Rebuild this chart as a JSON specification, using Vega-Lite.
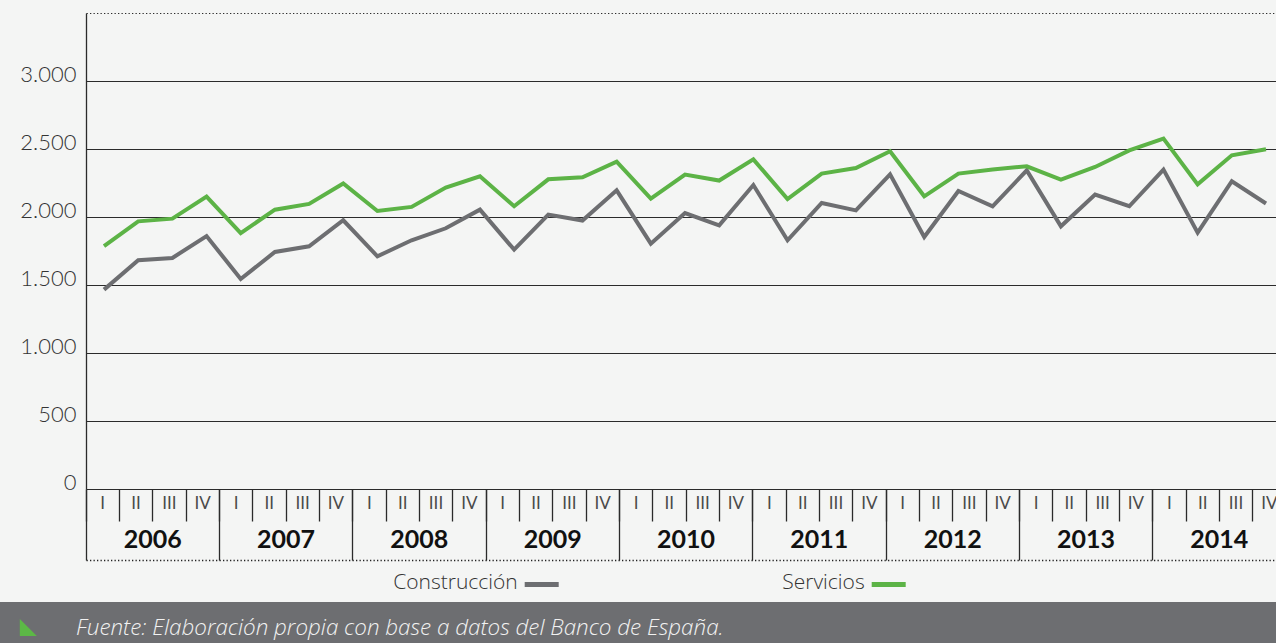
{
  "$schema": "https://vega.github.io/schema/vega-lite/v6.json",
  "background": "#f4f5f4",
  "padding": {"left": 0, "top": 13, "right": 0, "bottom": 0},
  "autosize": {"type": "pad"},
  "spacing": 0,
  "datasets": {
    "trimestral": [
      {"t": "2006-I", "serie": "Construcción", "valor": 1466},
      {"t": "2006-II", "serie": "Construcción", "valor": 1682},
      {"t": "2006-III", "serie": "Construcción", "valor": 1699},
      {"t": "2006-IV", "serie": "Construcción", "valor": 1860},
      {"t": "2007-I", "serie": "Construcción", "valor": 1544},
      {"t": "2007-II", "serie": "Construcción", "valor": 1743},
      {"t": "2007-III", "serie": "Construcción", "valor": 1785},
      {"t": "2007-IV", "serie": "Construcción", "valor": 1976},
      {"t": "2008-I", "serie": "Construcción", "valor": 1711},
      {"t": "2008-II", "serie": "Construcción", "valor": 1829},
      {"t": "2008-III", "serie": "Construcción", "valor": 1917},
      {"t": "2008-IV", "serie": "Construcción", "valor": 2054},
      {"t": "2009-I", "serie": "Construcción", "valor": 1760},
      {"t": "2009-II", "serie": "Construcción", "valor": 2018},
      {"t": "2009-III", "serie": "Construcción", "valor": 1974},
      {"t": "2009-IV", "serie": "Construcción", "valor": 2196},
      {"t": "2010-I", "serie": "Construcción", "valor": 1804},
      {"t": "2010-II", "serie": "Construcción", "valor": 2029},
      {"t": "2010-III", "serie": "Construcción", "valor": 1939},
      {"t": "2010-IV", "serie": "Construcción", "valor": 2235},
      {"t": "2011-I", "serie": "Construcción", "valor": 1829},
      {"t": "2011-II", "serie": "Construcción", "valor": 2103},
      {"t": "2011-III", "serie": "Construcción", "valor": 2049},
      {"t": "2011-IV", "serie": "Construcción", "valor": 2314},
      {"t": "2012-I", "serie": "Construcción", "valor": 1853},
      {"t": "2012-II", "serie": "Construcción", "valor": 2191},
      {"t": "2012-III", "serie": "Construcción", "valor": 2079},
      {"t": "2012-IV", "serie": "Construcción", "valor": 2343},
      {"t": "2013-I", "serie": "Construcción", "valor": 1932},
      {"t": "2013-II", "serie": "Construcción", "valor": 2165},
      {"t": "2013-III", "serie": "Construcción", "valor": 2079},
      {"t": "2013-IV", "serie": "Construcción", "valor": 2349},
      {"t": "2014-I", "serie": "Construcción", "valor": 1885},
      {"t": "2014-II", "serie": "Construcción", "valor": 2263},
      {"t": "2014-III", "serie": "Construcción", "valor": 2099},
      {"t": "2006-I", "serie": "Servicios", "valor": 1785},
      {"t": "2006-II", "serie": "Servicios", "valor": 1968},
      {"t": "2006-III", "serie": "Servicios", "valor": 1988},
      {"t": "2006-IV", "serie": "Servicios", "valor": 2150},
      {"t": "2007-I", "serie": "Servicios", "valor": 1882},
      {"t": "2007-II", "serie": "Servicios", "valor": 2054},
      {"t": "2007-III", "serie": "Servicios", "valor": 2096},
      {"t": "2007-IV", "serie": "Servicios", "valor": 2246},
      {"t": "2008-I", "serie": "Servicios", "valor": 2044},
      {"t": "2008-II", "serie": "Servicios", "valor": 2074},
      {"t": "2008-III", "serie": "Servicios", "valor": 2216},
      {"t": "2008-IV", "serie": "Servicios", "valor": 2299},
      {"t": "2009-I", "serie": "Servicios", "valor": 2079},
      {"t": "2009-II", "serie": "Servicios", "valor": 2277},
      {"t": "2009-III", "serie": "Servicios", "valor": 2292},
      {"t": "2009-IV", "serie": "Servicios", "valor": 2407},
      {"t": "2010-I", "serie": "Servicios", "valor": 2135},
      {"t": "2010-II", "serie": "Servicios", "valor": 2312},
      {"t": "2010-III", "serie": "Servicios", "valor": 2268},
      {"t": "2010-IV", "serie": "Servicios", "valor": 2424},
      {"t": "2011-I", "serie": "Servicios", "valor": 2132},
      {"t": "2011-II", "serie": "Servicios", "valor": 2319},
      {"t": "2011-III", "serie": "Servicios", "valor": 2360},
      {"t": "2011-IV", "serie": "Servicios", "valor": 2483},
      {"t": "2012-I", "serie": "Servicios", "valor": 2152},
      {"t": "2012-II", "serie": "Servicios", "valor": 2319},
      {"t": "2012-III", "serie": "Servicios", "valor": 2349},
      {"t": "2012-IV", "serie": "Servicios", "valor": 2373},
      {"t": "2013-I", "serie": "Servicios", "valor": 2275},
      {"t": "2013-II", "serie": "Servicios", "valor": 2368},
      {"t": "2013-III", "serie": "Servicios", "valor": 2490},
      {"t": "2013-IV", "serie": "Servicios", "valor": 2577},
      {"t": "2014-I", "serie": "Servicios", "valor": 2240},
      {"t": "2014-II", "serie": "Servicios", "valor": 2454},
      {"t": "2014-III", "serie": "Servicios", "valor": 2498}
    ]
  },
  "vconcat": [
    {
      "width": 1276,
      "height": 476,
      "data": {"name": "trimestral"},
      "layer": [
        {
          "mark": {"type": "line", "strokeWidth": 4, "strokeJoin": "miter"},
          "encoding": {
            "x": {
              "field": "t", "type": "ordinal",
              "scale": {"type": "point", "range": [86, 1276], "padding": 0.41, "align": 0.643},
              "axis": null
            },
            "y": {
              "field": "valor", "type": "quantitative",
              "scale": {"domain": [0, 3500], "nice": false, "zero": true},
              "axis": {
                "orient": "left",
                "offset": -86,
                "title": null,
                "values": [0, 500, 1000, 1500, 2000, 2500, 3000, 3500],
                "labelExpr": "datum.value == 3500 ? '' : replace(format(datum.value, ','), ',', '.')",
                "domain": true,
                "domainColor": "#2b2b2b",
                "domainWidth": 1.3,
                "ticks": false,
                "grid": true,
                "gridColor": "#2b2b2b",
                "gridWidth": 1.2,
                "gridOpacity": 1,
                "gridDash": {"condition": {"test": "datum.value == 3500", "value": [1.3, 2.2]}, "value": []},
                "labelFont": "Lato",
                "labelFontWeight": 300,
                "labelFontSize": 22,
                "labelColor": "#333333",
                "labelPadding": 10,
                "labelBaseline": "alphabetic",
                "labelAlign": "right"
              }
            },
            "color": {
              "field": "serie", "type": "nominal",
              "scale": {"domain": ["Construcción", "Servicios"], "range": ["#6d6e71", "#5cb346"]},
              "legend": null
            }
          }
        },
        {
          "mark": {"type": "point", "opacity": 0},
          "encoding": {
            "x": {
              "field": "t", "type": "ordinal",
              "scale": {
                "type": "band",
                "domain": ["2006-I","2006-II","2006-III","2006-IV","2007-I","2007-II","2007-III","2007-IV","2008-I","2008-II","2008-III","2008-IV","2009-I","2009-II","2009-III","2009-IV","2010-I","2010-II","2010-III","2010-IV","2011-I","2011-II","2011-III","2011-IV","2012-I","2012-II","2012-III","2012-IV","2013-I","2013-II","2013-III","2013-IV","2014-I","2014-II","2014-III","2014-IV"],
                "range": [86, 1286],
                "paddingInner": 0,
                "paddingOuter": 0
              },
              "axis": {
                "orient": "bottom",
                "title": null,
                "domain": false,
                "grid": false,
                "ticks": true,
                "tickSize": 32,
                "tickColor": "#2b2b2b",
                "tickWidth": 1.3,
                "bandPosition": 0,
                "tickExtra": false,
                "labelExpr": "split(datum.label, '-')[1]",
                "labelAngle": 0,
                "labelPadding": -18,
                "labelBaseline": "middle",
                "labelAlign": "center",
                "labelFont": "Lato",
                "labelFontWeight": 400,
                "labelFontSize": 17,
                "labelColor": "#4a4a4a",
                "labelOverlap": false,
                "labelFlush": false
              }
            },
            "y": {"field": "valor", "type": "quantitative"}
          }
        },
        {
          "mark": {"type": "point", "opacity": 0},
          "encoding": {
            "x": {
              "field": "t", "type": "ordinal",
              "scale": {
                "type": "band",
                "domain": ["2006-I","2006-II","2006-III","2006-IV","2007-I","2007-II","2007-III","2007-IV","2008-I","2008-II","2008-III","2008-IV","2009-I","2009-II","2009-III","2009-IV","2010-I","2010-II","2010-III","2010-IV","2011-I","2011-II","2011-III","2011-IV","2012-I","2012-II","2012-III","2012-IV","2013-I","2013-II","2013-III","2013-IV","2014-I","2014-II","2014-III","2014-IV"],
                "range": [86, 1286],
                "paddingInner": 0,
                "paddingOuter": 0
              },
              "axis": {
                "orient": "bottom",
                "offset": 71,
                "title": null,
                "values": ["2006-I","2007-I","2008-I","2009-I","2010-I","2011-I","2012-I","2013-I","2014-I"],
                "domain": true,
                "domainColor": "#222222",
                "domainWidth": 1.3,
                "domainDash": [1.3, 2.2],
                "grid": false,
                "ticks": true,
                "tickSize": -71,
                "tickColor": "#2b2b2b",
                "tickWidth": 1.3,
                "bandPosition": 0,
                "tickExtra": false,
                "labelExpr": "split(datum.label, '-')[0]",
                "labelAngle": 0,
                "labelOffset": 50,
                "labelPadding": 50,
                "labelBaseline": "middle",
                "labelAlign": "center",
                "labelFont": "Lato",
                "labelFontWeight": "bold",
                "labelFontSize": 25,
                "labelColor": "#111111",
                "labelOverlap": false,
                "labelFlush": false
              }
            },
            "y": {"field": "valor", "type": "quantitative"}
          }
        }
      ],
      "resolve": {"scale": {"x": "independent"}, "axis": {"x": "independent"}}
    },
    {
      "width": 1276,
      "height": 41,
      "data": {"values": [{"serie": "Construcción"}, {"serie": "Servicios"}]},
      "encoding": {
        "x": {
          "field": "serie", "type": "nominal",
          "scale": {"type": "point", "domain": ["Construcción", "Servicios"], "range": [541.7, 888.7], "padding": 0},
          "axis": null
        }
      },
      "layer": [
        {
          "mark": {"type": "text", "align": "right", "baseline": "alphabetic", "dx": -24, "dy": 7, "font": "Open Sans", "fontWeight": 300, "fontSize": 21, "color": "#333333"},
          "encoding": {"text": {"field": "serie"}}
        },
        {
          "mark": {"type": "tick", "orient": "horizontal", "size": 34, "thickness": 5, "yOffset": 3, "opacity": 1},
          "encoding": {"color": {"field": "serie", "type": "nominal", "legend": null}}
        }
      ]
    },
    {
      "width": 1276,
      "height": 41,
      "view": {"fill": "#6d6e71", "stroke": null},
      "data": {"values": [{"pieza": "icono", "texto": ""}, {"pieza": "fuente", "texto": "Fuente: Elaboración propia con base a datos del Banco de España."}]},
      "encoding": {
        "x": {
          "field": "pieza", "type": "nominal",
          "scale": {"type": "point", "domain": ["icono", "fuente"], "range": [28.3, 76], "padding": 0},
          "axis": null
        }
      },
      "layer": [
        {
          "transform": [{"filter": "datum.pieza === 'icono'"}],
          "mark": {"type": "point", "shape": "M -1 -1 L -1 1 L 1 1 Z", "filled": true, "size": 289, "color": "#5cb846", "opacity": 1, "yOffset": 5},
          "encoding": {}
        },
        {
          "transform": [{"filter": "datum.pieza === 'fuente'"}],
          "mark": {"type": "text", "align": "left", "baseline": "alphabetic", "dy": 12, "font": "Open Sans", "fontStyle": "italic", "fontWeight": 300, "fontSize": 22.4, "color": "#f2f2f2"},
          "encoding": {"text": {"field": "texto"}}
        }
      ]
    }
  ],
  "config": {
    "view": {"stroke": null},
    "font": "Lato"
  }
}
